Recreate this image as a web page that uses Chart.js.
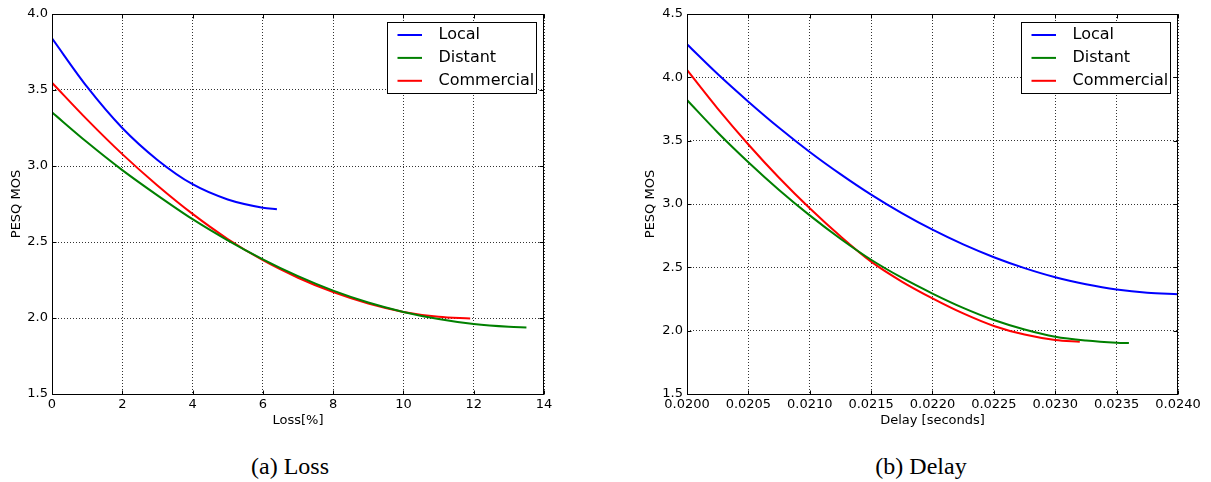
<!DOCTYPE html>
<html>
<head>
<meta charset="utf-8">
<title>PESQ MOS vs loss and delay</title>
<script src="https://cdn.jsdelivr.net/npm/chart.js@4/dist/chart.umd.min.js"></script>
<style>
  html, body { margin: 0; padding: 0; background: #fff; }
  body { width: 1211px; height: 482px; position: relative; overflow: hidden; }
  .panel { position: absolute; top: 0; }
  #lossPanel { left: 0; }
  #delayPanel { left: 605px; }
  .caption {
    position: absolute; top: 452px; height: 28px; line-height: 28px;
    font-family: "Liberation Serif", "Times New Roman", serif; font-size: 24px;
    color: #000; white-space: nowrap; transform: translateX(-50%);
  }
</style>
</head>
<body>
<div class="panel" id="lossPanel"><canvas id="lossChart" width="600" height="440"></canvas></div>
<div class="panel" id="delayPanel"><canvas id="delayChart" width="606" height="440"></canvas></div>
<div class="caption" style="left:290px">(a) Loss</div>
<div class="caption" style="left:921px">(b) Delay</div>

<script>
// ---- Loss panel data ----
const lossLocalX      = [0, 1, 2, 3, 4, 5, 6, 6.4];
const lossLocalMos    = [3.84, 3.52, 3.25, 3.04, 2.88, 2.78, 2.726, 2.715];
const lossDistantX    = [0, 1, 2, 3, 4, 5, 6, 7, 8, 9, 10, 11, 12, 13, 13.5];
const lossDistantMos  = [3.353, 3.156, 2.973, 2.807, 2.65, 2.511, 2.386, 2.275, 2.18, 2.102, 2.04, 1.993, 1.96, 1.942, 1.938];
const lossCommX       = [0, 1, 2, 3, 4, 5, 6, 7, 8, 9, 10, 11, 11.9];
const lossCommMos     = [3.548, 3.305, 3.078, 2.872, 2.685, 2.52, 2.38, 2.265, 2.17, 2.095, 2.04, 2.008, 1.997];
const lossXTicks      = [0, 2, 4, 6, 8, 10, 12, 14];
const lossYTicks      = [1.5, 2.0, 2.5, 3.0, 3.5, 4.0];

// ---- Delay panel data ----
const delayLocalX     = [0.02, 0.02025, 0.0205, 0.02075, 0.021, 0.02125, 0.0215, 0.02175, 0.022,
                         0.02225, 0.0225, 0.02275, 0.023, 0.02325, 0.0235, 0.02375, 0.024];
const delayLocalMos   = [4.261, 4.026, 3.808, 3.602, 3.411, 3.236, 3.074, 2.928, 2.797,
                         2.681, 2.58, 2.494, 2.422, 2.367, 2.325, 2.299, 2.288];
const delayDistantX   = [0.02, 0.02025, 0.0205, 0.02075, 0.021, 0.02125, 0.0215, 0.02175, 0.022,
                         0.02225, 0.0225, 0.02275, 0.023, 0.02325, 0.0235, 0.0236];
const delayDistantMos = [3.821, 3.565, 3.33, 3.111, 2.91, 2.726, 2.56, 2.418, 2.293,
                         2.18, 2.084, 2.009, 1.952, 1.922, 1.905, 1.902];
const delayCommX      = [0.02, 0.02025, 0.0205, 0.02075, 0.021, 0.02125, 0.0215, 0.02175, 0.022,
                         0.02225, 0.0225, 0.02275, 0.023, 0.0232];
const delayCommMos    = [4.058, 3.753, 3.47, 3.207, 2.966, 2.745, 2.545, 2.388, 2.255,
                         2.136, 2.037, 1.969, 1.926, 1.913];
const delayXTicks     = [0.0200, 0.0205, 0.0210, 0.0215, 0.0220, 0.0225, 0.0230, 0.0235, 0.0240];
const delayYTicks     = [1.5, 2.0, 2.5, 3.0, 3.5, 4.0, 4.5];

const seriesNames  = ['Local', 'Distant', 'Commercial'];
const seriesColors = ['#0000ff', '#008000', '#ff0000'];

const FONT = 'DejaVu Sans';

function toPoints(xs, ys) {
  return xs.map((x, i) => ({ x: x, y: ys[i] }));
}

function makeDataset(i, xs, ys) {
  return {
    label: seriesNames[i],
    data: toPoints(xs, ys),
    borderColor: seriesColors[i],
    backgroundColor: seriesColors[i],
    borderWidth: 2,
    pointRadius: 0,
    fill: false,
    cubicInterpolationMode: 'monotone'
  };
}

// Axes frame with inward tick marks plus a boxed legend in the upper right corner
const framePlugin = {
  id: 'axesFrame',
  afterDraw(chart) {
    const { ctx, chartArea: a, scales } = chart;
    const xs = scales.x, ys = scales.y;
    const L = a.left + 0.5, R = a.right - 0.5, T = a.top + 0.5, B = a.bottom + 0.5;
    ctx.save();
    ctx.strokeStyle = '#000';
    ctx.lineWidth = 1;
    ctx.setLineDash([]);
    ctx.beginPath();
    xs.ticks.forEach(t => {
      const px = Math.round(xs.getPixelForValue(t.value)) + 0.5;
      ctx.moveTo(px, B); ctx.lineTo(px, B - 4);
      ctx.moveTo(px, T); ctx.lineTo(px, T + 4);
    });
    ys.ticks.forEach(t => {
      const py = Math.round(ys.getPixelForValue(t.value)) + 0.5;
      ctx.moveTo(L, py); ctx.lineTo(L + 4, py);
      ctx.moveTo(R, py); ctx.lineTo(R - 4, py);
    });
    ctx.stroke();
    ctx.strokeRect(L, T, R - L, B - T);

    // legend box
    const boxW = 149, boxH = 71;
    const bx = Math.round(a.right - 8 - boxW) + 0.5;
    const by = Math.round(a.top + 8) + 0.5;
    ctx.fillStyle = '#fff';
    ctx.fillRect(bx, by, boxW, boxH);
    ctx.strokeStyle = '#000';
    ctx.strokeRect(bx, by, boxW, boxH);
    ctx.font = '16px "' + FONT + '"';
    ctx.textBaseline = 'middle';
    ctx.textAlign = 'left';
    chart.data.datasets.forEach((ds, i) => {
      const cy = by + 12.5 + i * 22.9;
      ctx.strokeStyle = ds.borderColor;
      ctx.lineWidth = 2;
      ctx.beginPath();
      ctx.moveTo(bx + 10, cy);
      ctx.lineTo(bx + 34.5, cy);
      ctx.stroke();
      ctx.fillStyle = '#000';
      ctx.fillText(ds.label, bx + 51, cy);
    });
    ctx.restore();
  }
};

function makeChart(canvasId, cfg) {
  const tickFont = { family: FONT, size: 13 };
  return new Chart(document.getElementById(canvasId), {
    type: 'line',
    data: { datasets: cfg.datasets },
    options: {
      responsive: false,
      animation: false,
      events: [],
      layout: { padding: { top: 14, right: cfg.padRight, bottom: 0, left: 0 } },
      plugins: { legend: { display: false }, tooltip: { enabled: false } },
      scales: {
        x: {
          type: 'linear',
          min: cfg.xMin, max: cfg.xMax,
          afterBuildTicks: s => { s.ticks = cfg.xTicks.map(v => ({ value: v })); },
          afterFit: s => { s.height = 46; },
          ticks: {
            font: tickFont, color: '#000', padding: 3,
            maxRotation: 0, autoSkip: false,
            callback: cfg.xFormat
          },
          grid: { color: 'rgba(0,0,0,0.8)', lineWidth: 1, drawTicks: false },
          border: { display: false, dash: [1, 2] },
          title: {
            display: true, text: cfg.xTitle, color: '#000',
            font: { family: FONT, size: 13 },
            padding: { top: 0, bottom: 12 }
          }
        },
        y: {
          type: 'linear',
          min: cfg.yMin, max: cfg.yMax,
          afterBuildTicks: s => { s.ticks = cfg.yTicks.map(v => ({ value: v })); },
          afterFit: s => { s.width = cfg.yAxisWidth; },
          ticks: {
            font: tickFont, color: '#000', padding: 4,
            autoSkip: false,
            callback: v => v.toFixed(1)
          },
          grid: { color: 'rgba(0,0,0,0.8)', lineWidth: 1, drawTicks: false },
          border: { display: false, dash: [1, 2] },
          title: {
            display: true, text: 'PESQ MOS', color: '#000',
            font: { family: FONT, size: 13 },
            padding: { top: cfg.yTitlePad, bottom: 0 }
          }
        }
      }
    },
    plugins: [framePlugin]
  });
}

makeChart('lossChart', {
  datasets: [
    makeDataset(0, lossLocalX, lossLocalMos),
    makeDataset(1, lossDistantX, lossDistantMos),
    makeDataset(2, lossCommX, lossCommMos)
  ],
  xMin: 0, xMax: 14, yMin: 1.5, yMax: 4.0,
  xTicks: lossXTicks, yTicks: lossYTicks,
  xFormat: v => String(v),
  xTitle: 'Loss[%]',
  padRight: 56, yAxisWidth: 52, yTitlePad: 9
});

makeChart('delayChart', {
  datasets: [
    makeDataset(0, delayLocalX, delayLocalMos),
    makeDataset(1, delayDistantX, delayDistantMos),
    makeDataset(2, delayCommX, delayCommMos)
  ],
  xMin: 0.02, xMax: 0.024, yMin: 1.5, yMax: 4.5,
  xTicks: delayXTicks, yTicks: delayYTicks,
  xFormat: v => v.toFixed(4),
  xTitle: 'Delay [seconds]',
  padRight: 33, yAxisWidth: 82, yTitlePad: 38
});
</script>
</body>
</html>
